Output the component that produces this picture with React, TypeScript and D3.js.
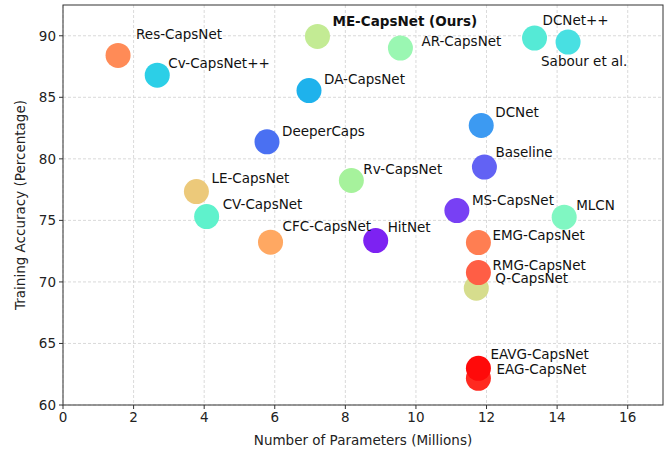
import * as d3 from "d3";

// model names, parameter counts (millions) and training accuracy (%)
const models = [
  "Res-CapsNet", "Cv-CapsNet++", "DA-CapsNet", "DeeperCaps", "LE-CapsNet", "CV-CapsNet",
  "CFC-CapsNet", "Rv-CapsNet", "HitNet", "AR-CapsNet", "DCNet++", "Sabour et al.",
  "DCNet", "Baseline", "MS-CapsNet", "MLCN", "EMG-CapsNet", "Q-CapsNet", "RMG-CapsNet",
  "EAG-CapsNet", "EAVG-CapsNet", "ME-CapsNet (Ours)",
];
const params = [1.56, 2.67, 6.97, 5.78, 3.78, 4.07, 5.88, 8.17, 8.86, 9.56, 13.36, 14.31, 11.85, 11.94, 11.16, 14.2, 11.77, 11.71, 11.77, 11.77, 11.77, 7.21];
const accuracy = [88.4, 86.8, 85.55, 81.38, 77.34, 75.31, 73.23, 78.24, 73.36, 89.0, 89.81, 89.49, 82.71, 79.33, 75.8, 75.26, 73.2, 69.49, 70.76, 62.17, 62.98, 89.95];
const colors = [
  "#ff8b57", "#2ccfe7", "#1eb2ec", "#4a70f2", "#ecc97a", "#5ff2cc",
  "#ffa862", "#a6f29c", "#7d22f2", "#9af7b2", "#55ead6", "#48e0e2",
  "#3c9af2", "#6262f4", "#7840f4", "#80f7c2", "#ff7e52", "#d6dd8d", "#ff5e45",
  "#ff2a20", "#ff0a0a", "#c3eb94",
];
const xTicks = [0, 2, 4, 6, 8, 10, 12, 14, 16];
const yTicks = [60, 65, 70, 75, 80, 85, 90];

// label offsets from the marker centre, in px
const labelOffset: Record<string, [number, number]> = {
  "Res-CapsNet": [18, -16], "Cv-CapsNet++": [11, -7], "DA-CapsNet": [15, -7],
  "DeeperCaps": [15, -6], "LE-CapsNet": [15, -9], "CV-CapsNet": [16, -8],
  "CFC-CapsNet": [12, -11], "Rv-CapsNet": [12, -7], "HitNet": [12, -9],
  "AR-CapsNet": [21, -2], "DCNet++": [8, -13], "Sabour et al.": [-27, 24],
  "DCNet": [14, -8], "Baseline": [11, -10], "MS-CapsNet": [15, -6], "MLCN": [12, -7],
  "EMG-CapsNet": [14, -3], "Q-CapsNet": [19, -5], "RMG-CapsNet": [14, -3],
  "EAG-CapsNet": [18, -4], "EAVG-CapsNet": [12, -9], "ME-CapsNet (Ours)": [15, -10],
};

const W = 667, H = 452;
const M = { left: 63, right: 4, top: 5, bottom: 47 };
const font = "DejaVu Sans, sans-serif";

export default function App() {
  const x = d3.scaleLinear().domain([0, 17]).range([M.left, W - M.right]);
  const y = d3.scaleLinear().domain([60, 92.5]).range([H - M.bottom, M.top]);
  const [x0, x1] = x.range();
  const [y0, y1] = y.range();

  return (
    <svg width={W} height={H} style={{ position: "absolute", left: 0, top: 0, background: "#fff" }} fontFamily={font}>
      {xTicks.map((t) => (
        <line key={"gx" + t} x1={x(t)} x2={x(t)} y1={y1} y2={y0} stroke="#d0d0d0" strokeWidth={0.8} strokeDasharray="3,2" />
      ))}
      {yTicks.map((t) => (
        <line key={"gy" + t} x1={x0} x2={x1} y1={y(t)} y2={y(t)} stroke="#d0d0d0" strokeWidth={0.8} strokeDasharray="3,2" />
      ))}
      {models.map((m, i) => (
        <circle key={m} cx={x(params[i])} cy={y(accuracy[i])} r={12.5} fill={colors[i]} />
      ))}
      {models.map((m, i) => {
        const [dx, dy] = labelOffset[m];
        const bold = m.includes("Ours");
        return (
          <text key={"l" + m} x={x(params[i]) + dx} y={y(accuracy[i]) + dy} fontSize={13.5}
            fontWeight={bold ? "bold" : "normal"} fill="#111">{m}</text>
        );
      })}
      <rect x={x0} y={y1} width={x1 - x0} height={y0 - y1} fill="none" stroke="#333" strokeWidth={1} />
      {xTicks.map((t) => (
        <g key={"tx" + t}>
          <line x1={x(t)} x2={x(t)} y1={y0} y2={y0 + 4} stroke="#333" />
          <text x={x(t)} y={y0 + 17} textAnchor="middle" fontSize={13.5} fill="#222">{t}</text>
        </g>
      ))}
      {yTicks.map((t) => (
        <g key={"ty" + t}>
          <line x1={x0 - 4} x2={x0} y1={y(t)} y2={y(t)} stroke="#333" />
          <text x={x0 - 7} y={y(t) + 5} textAnchor="end" fontSize={13.5} fill="#222">{t}</text>
        </g>
      ))}
      <text x={(x0 + x1) / 2} y={445} textAnchor="middle" fontSize={13.5} fill="#222">Number of Parameters (Millions)</text>
      <text transform={`translate(25,${(y0 + y1) / 2}) rotate(-90)`} textAnchor="middle" fontSize={13.5} fill="#222">Training Accuracy (Percentage)</text>
    </svg>
  );
}
